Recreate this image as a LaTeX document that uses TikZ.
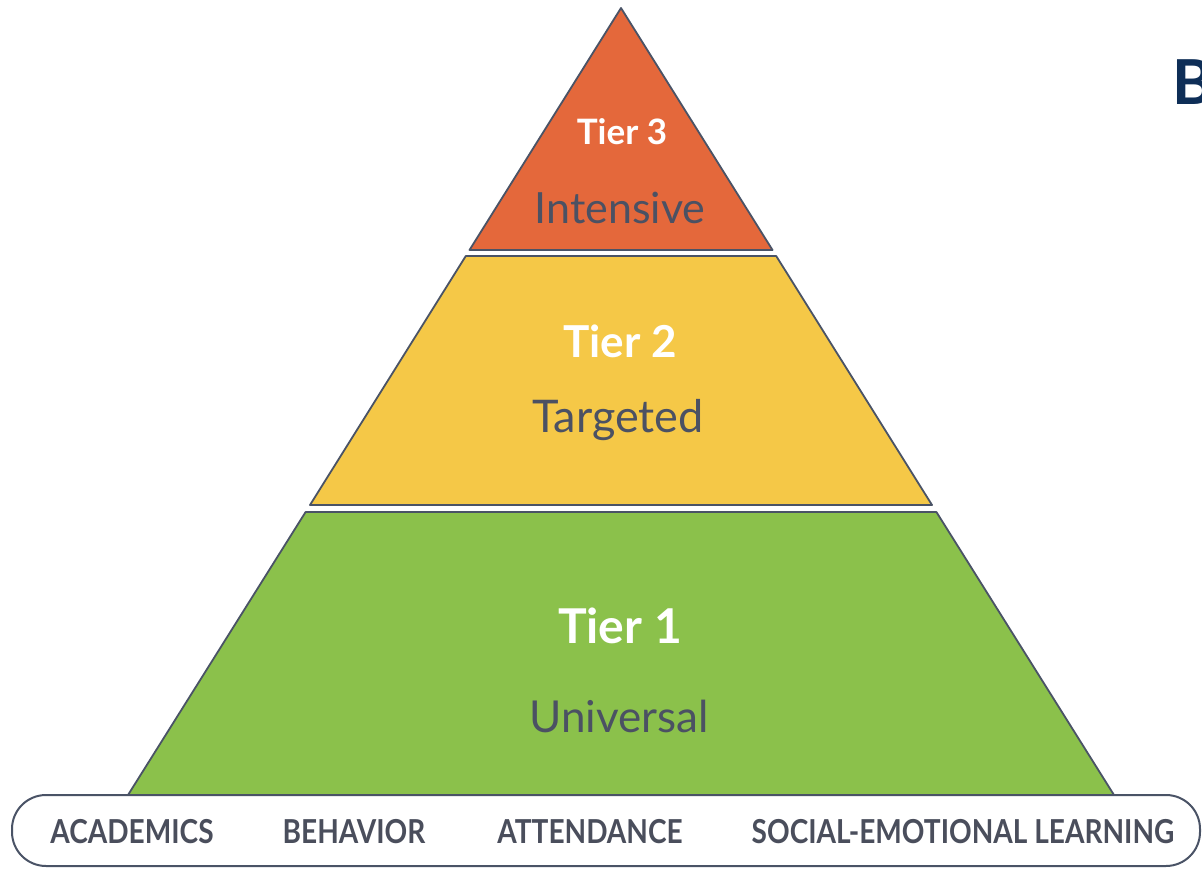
\documentclass[tikz,border=0pt]{standalone}
\usepackage{fontspec}
\setmainfont{Lato}
\newfontfamily\latob{Lato}[FakeStretch=0.85]
\usetikzlibrary{positioning}
\definecolor{torange}{HTML}{E4683B}
\definecolor{tyellow}{HTML}{F5C847}
\definecolor{tgreen}{HTML}{8BC14B}
\definecolor{tline}{HTML}{4A5366}
\definecolor{tsub}{HTML}{4B5163}
\definecolor{tlabel}{HTML}{4A4E5C}
\definecolor{tnavy}{HTML}{0E2E57}
\tikzset{
  tierband/.style={draw=tline, line width=1.8pt, line join=round},
  tiertitle/.style={text=white, font=\bfseries\fontsize{#1}{#1}\selectfont, inner sep=0pt},
  tiersub/.style={text=tsub, font=\fontsize{#1}{#1}\selectfont, inner sep=0pt},
  domainlbl/.style={text=tlabel, font=\latob\bfseries\fontsize{33}{33}\selectfont, inner sep=0pt}
}
\begin{document}
\begin{tikzpicture}[x=1pt,y=-1pt]
\useasboundingbox (0,0) rectangle (1202,869);
% bands
\draw[tierband, fill=torange] (621,8) -- (772.5,250) -- (469.5,250) -- cycle;
\draw[tierband, fill=tyellow] (465.8,256) -- (776.2,256) -- (932,505) -- (310,505) -- cycle;
\draw[tierband, fill=tgreen] (305.6,512) -- (936.4,512) -- (1114,795) -- (128,795) -- cycle;
% base bar
\draw[draw=tline, line width=2pt, fill=white, rounded corners=34pt] (12,795) rectangle (1200,866);
% tier texts
\node[tiertitle=35] (t3) at (622,132) {Tier 3};
\node[tiersub=43] (s3) at (620,208) {Intensive};
\node[tiertitle=44] (t2) at (620,341) {Tier 2};
\node[tiersub=45] (s2) at (618,420) {Targeted};
\node[tiertitle=48] (t1) at (620,626) {Tier 1};
\node[tiersub=44] (s1) at (619,716) {Universal};
% domains
\node[domainlbl] (d1) at (132,832) {ACADEMICS};
\node[domainlbl] (d2) at (354,832) {BEHAVIOR};
\node[domainlbl] (d3) at (590,832) {ATTENDANCE};
\node[domainlbl] (d4) at (963,832) {SOCIAL-EMOTIONAL LEARNING};
% heading fragment
\node[anchor=base west, inner sep=0pt, text=tnavy, font=\bfseries\fontsize{62}{62}\selectfont] (hb) at (1172,105) {B};
\end{tikzpicture}
\end{document}
